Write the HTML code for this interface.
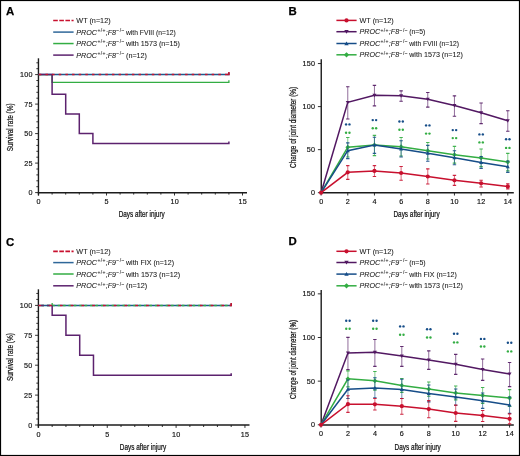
<!DOCTYPE html><html><head><meta charset="utf-8"><style>html,body{margin:0;padding:0;background:#fff}svg{display:block;will-change:transform}text{font-family:"Liberation Sans",sans-serif}.t{fill:#111;stroke:#111;stroke-width:0.16px}.l{fill:#1a1a1a;stroke:#1a1a1a;stroke-width:0.07px}.tt{fill:#111;stroke:#111;stroke-width:0.22px}</style></head><body>
<svg width="520" height="456" viewBox="0 0 520 456">
<rect x="0" y="0" width="520" height="456" fill="#fff"/>
<text x="5.9" y="14.5" font-size="11.4" text-anchor="start" font-weight="bold" fill="#000" stroke="#000" stroke-width="0.25">A</text>
<text x="5.9" y="245.7" font-size="11.4" text-anchor="start" font-weight="bold" fill="#000" stroke="#000" stroke-width="0.25">C</text>
<text x="288.5" y="14.9" font-size="11.4" text-anchor="start" font-weight="bold" fill="#000" stroke="#000" stroke-width="0.25">B</text>
<text x="288.5" y="245.4" font-size="11.4" text-anchor="start" font-weight="bold" fill="#000" stroke="#000" stroke-width="0.25">D</text>
<line x1="53.2" y1="20.55" x2="73.6" y2="20.55" stroke="#c8102e" stroke-width="1.6" stroke-dasharray="4.6 1.5"/>
<text class="l" x="76.3" y="23.15" font-size="7.2" textLength="34.3" lengthAdjust="spacingAndGlyphs">WT (n=12)</text>
<line x1="53.2" y1="32.1" x2="73.6" y2="32.1" stroke="#2f6799" stroke-width="1.5"/>
<text class="l" x="76.3" y="34.7" font-size="7.2"><tspan font-style="italic">PROC</tspan><tspan font-size="5" dy="-2.8" letter-spacing="0.35" dx="0.3">+/+</tspan><tspan dy="2.8" font-style="italic">;F8</tspan><tspan font-size="5" dy="-2.8" letter-spacing="0.45" dx="0.3">&#8722;/&#8722;</tspan></text>
<text class="l" x="126" y="34.7" font-size="7.2" textLength="49.7" lengthAdjust="spacingAndGlyphs">with FVIII (n=12)</text>
<line x1="53.2" y1="43.55" x2="73.6" y2="43.55" stroke="#33ad43" stroke-width="1.5"/>
<text class="l" x="76.3" y="46.15" font-size="7.2"><tspan font-style="italic">PROC</tspan><tspan font-size="5" dy="-2.8" letter-spacing="0.35" dx="0.3">+/+</tspan><tspan dy="2.8" font-style="italic">;F8</tspan><tspan font-size="5" dy="-2.8" letter-spacing="0.45" dx="0.3">&#8722;/&#8722;</tspan></text>
<text class="l" x="126" y="46.15" font-size="7.2" textLength="54" lengthAdjust="spacingAndGlyphs">with 1573 (n=15)</text>
<line x1="53.2" y1="55.1" x2="73.6" y2="55.1" stroke="#5c226e" stroke-width="1.5"/>
<text class="l" x="76.3" y="57.7" font-size="7.2"><tspan font-style="italic">PROC</tspan><tspan font-size="5" dy="-2.8" letter-spacing="0.35" dx="0.3">+/+</tspan><tspan dy="2.8" font-style="italic">;F8</tspan><tspan font-size="5" dy="-2.8" letter-spacing="0.45" dx="0.3">&#8722;/&#8722;</tspan></text>
<text class="l" x="126" y="57.7" font-size="7.2" textLength="21" lengthAdjust="spacingAndGlyphs">(n=12)</text>
<line x1="53.2" y1="251.4" x2="73.6" y2="251.4" stroke="#c8102e" stroke-width="1.6" stroke-dasharray="4.6 1.5"/>
<text class="l" x="76.3" y="254" font-size="7.2" textLength="34.3" lengthAdjust="spacingAndGlyphs">WT (n=12)</text>
<line x1="53.2" y1="262.6" x2="73.6" y2="262.6" stroke="#2f6799" stroke-width="1.5"/>
<text class="l" x="76.3" y="265.2" font-size="7.2"><tspan font-style="italic">PROC</tspan><tspan font-size="5" dy="-2.8" letter-spacing="0.35" dx="0.3">+/+</tspan><tspan dy="2.8" font-style="italic">;F9</tspan><tspan font-size="5" dy="-2.8" letter-spacing="0.45" dx="0.3">&#8722;/&#8722;</tspan></text>
<text class="l" x="126" y="265.2" font-size="7.2" textLength="48" lengthAdjust="spacingAndGlyphs">with FIX (n=12)</text>
<line x1="53.2" y1="274" x2="73.6" y2="274" stroke="#33ad43" stroke-width="1.5"/>
<text class="l" x="76.3" y="276.6" font-size="7.2"><tspan font-style="italic">PROC</tspan><tspan font-size="5" dy="-2.8" letter-spacing="0.35" dx="0.3">+/+</tspan><tspan dy="2.8" font-style="italic">;F9</tspan><tspan font-size="5" dy="-2.8" letter-spacing="0.45" dx="0.3">&#8722;/&#8722;</tspan></text>
<text class="l" x="126" y="276.6" font-size="7.2" textLength="54.2" lengthAdjust="spacingAndGlyphs">with 1573 (n=12)</text>
<line x1="53.2" y1="285.8" x2="73.6" y2="285.8" stroke="#5c226e" stroke-width="1.5"/>
<text class="l" x="76.3" y="288.4" font-size="7.2"><tspan font-style="italic">PROC</tspan><tspan font-size="5" dy="-2.8" letter-spacing="0.35" dx="0.3">+/+</tspan><tspan dy="2.8" font-style="italic">;F9</tspan><tspan font-size="5" dy="-2.8" letter-spacing="0.45" dx="0.3">&#8722;/&#8722;</tspan></text>
<text class="l" x="126" y="288.4" font-size="7.2" textLength="21.2" lengthAdjust="spacingAndGlyphs">(n=12)</text>
<line x1="336.4" y1="20.4" x2="356.6" y2="20.4" stroke="#c8102e" stroke-width="1.5"/>
<circle cx="346.5" cy="20.4" r="2.1" fill="#c8102e"/>
<text class="l" x="359.5" y="23" font-size="7.2" textLength="34.3" lengthAdjust="spacingAndGlyphs">WT (n=12)</text>
<line x1="336.4" y1="31.7" x2="356.6" y2="31.7" stroke="#521862" stroke-width="1.5"/>
<path d="M344.3,30.05H348.7L346.5,33.79Z" fill="#521862"/>
<text class="l" x="359.5" y="34.3" font-size="7.2"><tspan font-style="italic">PROC</tspan><tspan font-size="5" dy="-2.8" letter-spacing="0.35" dx="0.3">+/+</tspan><tspan dy="2.8" font-style="italic">;F8</tspan><tspan font-size="5" dy="-2.8" letter-spacing="0.45" dx="0.3">&#8722;/&#8722;</tspan></text>
<text class="l" x="409.2" y="34.3" font-size="7.2" textLength="16.2" lengthAdjust="spacingAndGlyphs">(n=5)</text>
<line x1="336.4" y1="43.5" x2="356.6" y2="43.5" stroke="#164d88" stroke-width="1.5"/>
<path d="M344.3,45.15H348.7L346.5,41.41Z" fill="#164d88"/>
<text class="l" x="359.5" y="46.1" font-size="7.2"><tspan font-style="italic">PROC</tspan><tspan font-size="5" dy="-2.8" letter-spacing="0.35" dx="0.3">+/+</tspan><tspan dy="2.8" font-style="italic">;F8</tspan><tspan font-size="5" dy="-2.8" letter-spacing="0.45" dx="0.3">&#8722;/&#8722;</tspan></text>
<text class="l" x="409.2" y="46.1" font-size="7.2" textLength="49.8" lengthAdjust="spacingAndGlyphs">with FVIII (n=12)</text>
<line x1="336.4" y1="54.8" x2="356.6" y2="54.8" stroke="#33ad43" stroke-width="1.5"/>
<path d="M346.5,52.16L349.14,54.8L346.5,57.44L343.86,54.8Z" fill="#33ad43"/>
<text class="l" x="359.5" y="57.4" font-size="7.2"><tspan font-style="italic">PROC</tspan><tspan font-size="5" dy="-2.8" letter-spacing="0.35" dx="0.3">+/+</tspan><tspan dy="2.8" font-style="italic">;F8</tspan><tspan font-size="5" dy="-2.8" letter-spacing="0.45" dx="0.3">&#8722;/&#8722;</tspan></text>
<text class="l" x="409.2" y="57.4" font-size="7.2" textLength="53.6" lengthAdjust="spacingAndGlyphs">with 1573 (n=12)</text>
<line x1="336.4" y1="251.3" x2="356.6" y2="251.3" stroke="#c8102e" stroke-width="1.5"/>
<circle cx="346.5" cy="251.3" r="2.1" fill="#c8102e"/>
<text class="l" x="359.5" y="253.9" font-size="7.2" textLength="34.3" lengthAdjust="spacingAndGlyphs">WT (n=12)</text>
<line x1="336.4" y1="262.5" x2="356.6" y2="262.5" stroke="#521862" stroke-width="1.5"/>
<path d="M344.3,260.85H348.7L346.5,264.59Z" fill="#521862"/>
<text class="l" x="359.5" y="265.1" font-size="7.2"><tspan font-style="italic">PROC</tspan><tspan font-size="5" dy="-2.8" letter-spacing="0.35" dx="0.3">+/+</tspan><tspan dy="2.8" font-style="italic">;F9</tspan><tspan font-size="5" dy="-2.8" letter-spacing="0.45" dx="0.3">&#8722;/&#8722;</tspan></text>
<text class="l" x="409.2" y="265.1" font-size="7.2" textLength="16.4" lengthAdjust="spacingAndGlyphs">(n=5)</text>
<line x1="336.4" y1="274.1" x2="356.6" y2="274.1" stroke="#164d88" stroke-width="1.5"/>
<path d="M344.3,275.75H348.7L346.5,272.01Z" fill="#164d88"/>
<text class="l" x="359.5" y="276.7" font-size="7.2"><tspan font-style="italic">PROC</tspan><tspan font-size="5" dy="-2.8" letter-spacing="0.35" dx="0.3">+/+</tspan><tspan dy="2.8" font-style="italic">;F9</tspan><tspan font-size="5" dy="-2.8" letter-spacing="0.45" dx="0.3">&#8722;/&#8722;</tspan></text>
<text class="l" x="409.2" y="276.7" font-size="7.2" textLength="47.6" lengthAdjust="spacingAndGlyphs">with FIX (n=12)</text>
<line x1="336.4" y1="285.8" x2="356.6" y2="285.8" stroke="#33ad43" stroke-width="1.5"/>
<path d="M346.5,283.16L349.14,285.8L346.5,288.44L343.86,285.8Z" fill="#33ad43"/>
<text class="l" x="359.5" y="288.4" font-size="7.2"><tspan font-style="italic">PROC</tspan><tspan font-size="5" dy="-2.8" letter-spacing="0.35" dx="0.3">+/+</tspan><tspan dy="2.8" font-style="italic">;F9</tspan><tspan font-size="5" dy="-2.8" letter-spacing="0.45" dx="0.3">&#8722;/&#8722;</tspan></text>
<text class="l" x="409.2" y="288.4" font-size="7.2" textLength="53.8" lengthAdjust="spacingAndGlyphs">with 1573 (n=12)</text>
<line x1="38.45" y1="58.3" x2="38.45" y2="195.45" stroke="#1c1c1c" stroke-width="1.4"/>
<line x1="37.75" y1="192.65" x2="247" y2="192.65" stroke="#1c1c1c" stroke-width="1.5"/>
<line x1="35.15" y1="192.6" x2="38.45" y2="192.6" stroke="#1c1c1c" stroke-width="0.9"/>
<line x1="36.35" y1="186.7" x2="38.45" y2="186.7" stroke="#1c1c1c" stroke-width="0.9"/>
<line x1="36.35" y1="180.8" x2="38.45" y2="180.8" stroke="#1c1c1c" stroke-width="0.9"/>
<line x1="36.35" y1="174.9" x2="38.45" y2="174.9" stroke="#1c1c1c" stroke-width="0.9"/>
<line x1="36.35" y1="169" x2="38.45" y2="169" stroke="#1c1c1c" stroke-width="0.9"/>
<line x1="35.15" y1="163.1" x2="38.45" y2="163.1" stroke="#1c1c1c" stroke-width="0.9"/>
<line x1="36.35" y1="157.2" x2="38.45" y2="157.2" stroke="#1c1c1c" stroke-width="0.9"/>
<line x1="36.35" y1="151.3" x2="38.45" y2="151.3" stroke="#1c1c1c" stroke-width="0.9"/>
<line x1="36.35" y1="145.4" x2="38.45" y2="145.4" stroke="#1c1c1c" stroke-width="0.9"/>
<line x1="36.35" y1="139.5" x2="38.45" y2="139.5" stroke="#1c1c1c" stroke-width="0.9"/>
<line x1="35.15" y1="133.6" x2="38.45" y2="133.6" stroke="#1c1c1c" stroke-width="0.9"/>
<line x1="36.35" y1="127.7" x2="38.45" y2="127.7" stroke="#1c1c1c" stroke-width="0.9"/>
<line x1="36.35" y1="121.8" x2="38.45" y2="121.8" stroke="#1c1c1c" stroke-width="0.9"/>
<line x1="36.35" y1="115.9" x2="38.45" y2="115.9" stroke="#1c1c1c" stroke-width="0.9"/>
<line x1="36.35" y1="110" x2="38.45" y2="110" stroke="#1c1c1c" stroke-width="0.9"/>
<line x1="35.15" y1="104.1" x2="38.45" y2="104.1" stroke="#1c1c1c" stroke-width="0.9"/>
<line x1="36.35" y1="98.2" x2="38.45" y2="98.2" stroke="#1c1c1c" stroke-width="0.9"/>
<line x1="36.35" y1="92.3" x2="38.45" y2="92.3" stroke="#1c1c1c" stroke-width="0.9"/>
<line x1="36.35" y1="86.4" x2="38.45" y2="86.4" stroke="#1c1c1c" stroke-width="0.9"/>
<line x1="36.35" y1="80.5" x2="38.45" y2="80.5" stroke="#1c1c1c" stroke-width="0.9"/>
<line x1="35.15" y1="74.6" x2="38.45" y2="74.6" stroke="#1c1c1c" stroke-width="0.9"/>
<line x1="36.35" y1="68.7" x2="38.45" y2="68.7" stroke="#1c1c1c" stroke-width="0.9"/>
<line x1="36.35" y1="62.8" x2="38.45" y2="62.8" stroke="#1c1c1c" stroke-width="0.9"/>
<text x="32.65" y="195.15" font-size="7.2" text-anchor="end" class="t" letter-spacing="0.25">0</text>
<text x="32.65" y="165.65" font-size="7.2" text-anchor="end" class="t" letter-spacing="0.25">25</text>
<text x="32.65" y="136.15" font-size="7.2" text-anchor="end" class="t" letter-spacing="0.25">50</text>
<text x="32.65" y="106.65" font-size="7.2" text-anchor="end" class="t" letter-spacing="0.25">75</text>
<text x="32.65" y="77.15" font-size="7.2" text-anchor="end" class="t" letter-spacing="0.25">100</text>
<line x1="38.5" y1="192.6" x2="38.5" y2="195.5" stroke="#1c1c1c" stroke-width="0.9"/>
<line x1="52.1" y1="192.6" x2="52.1" y2="194.6" stroke="#1c1c1c" stroke-width="0.9"/>
<line x1="65.7" y1="192.6" x2="65.7" y2="194.6" stroke="#1c1c1c" stroke-width="0.9"/>
<line x1="79.3" y1="192.6" x2="79.3" y2="194.6" stroke="#1c1c1c" stroke-width="0.9"/>
<line x1="92.9" y1="192.6" x2="92.9" y2="194.6" stroke="#1c1c1c" stroke-width="0.9"/>
<line x1="106.5" y1="192.6" x2="106.5" y2="195.5" stroke="#1c1c1c" stroke-width="0.9"/>
<line x1="120.1" y1="192.6" x2="120.1" y2="194.6" stroke="#1c1c1c" stroke-width="0.9"/>
<line x1="133.7" y1="192.6" x2="133.7" y2="194.6" stroke="#1c1c1c" stroke-width="0.9"/>
<line x1="147.3" y1="192.6" x2="147.3" y2="194.6" stroke="#1c1c1c" stroke-width="0.9"/>
<line x1="160.9" y1="192.6" x2="160.9" y2="194.6" stroke="#1c1c1c" stroke-width="0.9"/>
<line x1="174.5" y1="192.6" x2="174.5" y2="195.5" stroke="#1c1c1c" stroke-width="0.9"/>
<line x1="188.1" y1="192.6" x2="188.1" y2="194.6" stroke="#1c1c1c" stroke-width="0.9"/>
<line x1="201.7" y1="192.6" x2="201.7" y2="194.6" stroke="#1c1c1c" stroke-width="0.9"/>
<line x1="215.3" y1="192.6" x2="215.3" y2="194.6" stroke="#1c1c1c" stroke-width="0.9"/>
<line x1="228.9" y1="192.6" x2="228.9" y2="194.6" stroke="#1c1c1c" stroke-width="0.9"/>
<line x1="242.5" y1="192.6" x2="242.5" y2="195.5" stroke="#1c1c1c" stroke-width="0.9"/>
<text x="38.65" y="204.1" font-size="7.2" text-anchor="middle" class="t" letter-spacing="0.25">0</text>
<text x="106.65" y="204.1" font-size="7.2" text-anchor="middle" class="t" letter-spacing="0.25">5</text>
<text x="174.65" y="204.1" font-size="7.2" text-anchor="middle" class="t" letter-spacing="0.25">10</text>
<text x="242.65" y="204.1" font-size="7.2" text-anchor="middle" class="t" letter-spacing="0.25">15</text>
<polyline points="38.5,74.6 228.9,74.6 228.9,72.4" fill="none" stroke="#1f5b8f" stroke-width="1.5" stroke-linejoin="miter"/>
<polyline points="38.5,74.6 52.1,74.6 52.1,82.47 228.9,82.47 228.9,80.27" fill="none" stroke="#33ad43" stroke-width="1.3" stroke-linejoin="miter"/>
<polyline points="38.5,74.6 52.1,74.6 52.1,94.27 65.7,94.27 65.7,113.93 79.3,113.93 79.3,133.6 92.9,133.6 92.9,143.43 228.9,143.43 228.9,141.43" fill="none" stroke="#5c226e" stroke-width="1.5" stroke-linejoin="miter"/>
<polyline points="38.5,74.6 227.7,74.6" fill="none" stroke="#c8102e" stroke-width="1.5" stroke-linejoin="miter" stroke-dasharray="2.5 4.15" stroke-dashoffset="6.35"/>
<polyline points="227.3,74.6 228.9,74.6 228.9,72.1" fill="none" stroke="#c8102e" stroke-width="1.5" stroke-linejoin="miter"/>
<line x1="38.4" y1="289.3" x2="38.4" y2="427.8" stroke="#1c1c1c" stroke-width="1.4"/>
<line x1="37.7" y1="425" x2="249.5" y2="425" stroke="#1c1c1c" stroke-width="1.5"/>
<line x1="35.1" y1="425" x2="38.4" y2="425" stroke="#1c1c1c" stroke-width="0.9"/>
<line x1="36.3" y1="419.02" x2="38.4" y2="419.02" stroke="#1c1c1c" stroke-width="0.9"/>
<line x1="36.3" y1="413.04" x2="38.4" y2="413.04" stroke="#1c1c1c" stroke-width="0.9"/>
<line x1="36.3" y1="407.06" x2="38.4" y2="407.06" stroke="#1c1c1c" stroke-width="0.9"/>
<line x1="36.3" y1="401.08" x2="38.4" y2="401.08" stroke="#1c1c1c" stroke-width="0.9"/>
<line x1="35.1" y1="395.1" x2="38.4" y2="395.1" stroke="#1c1c1c" stroke-width="0.9"/>
<line x1="36.3" y1="389.12" x2="38.4" y2="389.12" stroke="#1c1c1c" stroke-width="0.9"/>
<line x1="36.3" y1="383.14" x2="38.4" y2="383.14" stroke="#1c1c1c" stroke-width="0.9"/>
<line x1="36.3" y1="377.16" x2="38.4" y2="377.16" stroke="#1c1c1c" stroke-width="0.9"/>
<line x1="36.3" y1="371.18" x2="38.4" y2="371.18" stroke="#1c1c1c" stroke-width="0.9"/>
<line x1="35.1" y1="365.2" x2="38.4" y2="365.2" stroke="#1c1c1c" stroke-width="0.9"/>
<line x1="36.3" y1="359.22" x2="38.4" y2="359.22" stroke="#1c1c1c" stroke-width="0.9"/>
<line x1="36.3" y1="353.24" x2="38.4" y2="353.24" stroke="#1c1c1c" stroke-width="0.9"/>
<line x1="36.3" y1="347.26" x2="38.4" y2="347.26" stroke="#1c1c1c" stroke-width="0.9"/>
<line x1="36.3" y1="341.28" x2="38.4" y2="341.28" stroke="#1c1c1c" stroke-width="0.9"/>
<line x1="35.1" y1="335.3" x2="38.4" y2="335.3" stroke="#1c1c1c" stroke-width="0.9"/>
<line x1="36.3" y1="329.32" x2="38.4" y2="329.32" stroke="#1c1c1c" stroke-width="0.9"/>
<line x1="36.3" y1="323.34" x2="38.4" y2="323.34" stroke="#1c1c1c" stroke-width="0.9"/>
<line x1="36.3" y1="317.36" x2="38.4" y2="317.36" stroke="#1c1c1c" stroke-width="0.9"/>
<line x1="36.3" y1="311.38" x2="38.4" y2="311.38" stroke="#1c1c1c" stroke-width="0.9"/>
<line x1="35.1" y1="305.4" x2="38.4" y2="305.4" stroke="#1c1c1c" stroke-width="0.9"/>
<line x1="36.3" y1="299.42" x2="38.4" y2="299.42" stroke="#1c1c1c" stroke-width="0.9"/>
<line x1="36.3" y1="293.44" x2="38.4" y2="293.44" stroke="#1c1c1c" stroke-width="0.9"/>
<text x="32.6" y="427.55" font-size="7.2" text-anchor="end" class="t" letter-spacing="0.25">0</text>
<text x="32.6" y="397.65" font-size="7.2" text-anchor="end" class="t" letter-spacing="0.25">25</text>
<text x="32.6" y="367.75" font-size="7.2" text-anchor="end" class="t" letter-spacing="0.25">50</text>
<text x="32.6" y="337.85" font-size="7.2" text-anchor="end" class="t" letter-spacing="0.25">75</text>
<text x="32.6" y="307.95" font-size="7.2" text-anchor="end" class="t" letter-spacing="0.25">100</text>
<line x1="38.4" y1="425" x2="38.4" y2="427.9" stroke="#1c1c1c" stroke-width="0.9"/>
<line x1="52.17" y1="425" x2="52.17" y2="427" stroke="#1c1c1c" stroke-width="0.9"/>
<line x1="65.94" y1="425" x2="65.94" y2="427" stroke="#1c1c1c" stroke-width="0.9"/>
<line x1="79.71" y1="425" x2="79.71" y2="427" stroke="#1c1c1c" stroke-width="0.9"/>
<line x1="93.48" y1="425" x2="93.48" y2="427" stroke="#1c1c1c" stroke-width="0.9"/>
<line x1="107.25" y1="425" x2="107.25" y2="427.9" stroke="#1c1c1c" stroke-width="0.9"/>
<line x1="121.02" y1="425" x2="121.02" y2="427" stroke="#1c1c1c" stroke-width="0.9"/>
<line x1="134.79" y1="425" x2="134.79" y2="427" stroke="#1c1c1c" stroke-width="0.9"/>
<line x1="148.56" y1="425" x2="148.56" y2="427" stroke="#1c1c1c" stroke-width="0.9"/>
<line x1="162.33" y1="425" x2="162.33" y2="427" stroke="#1c1c1c" stroke-width="0.9"/>
<line x1="176.1" y1="425" x2="176.1" y2="427.9" stroke="#1c1c1c" stroke-width="0.9"/>
<line x1="189.87" y1="425" x2="189.87" y2="427" stroke="#1c1c1c" stroke-width="0.9"/>
<line x1="203.64" y1="425" x2="203.64" y2="427" stroke="#1c1c1c" stroke-width="0.9"/>
<line x1="217.41" y1="425" x2="217.41" y2="427" stroke="#1c1c1c" stroke-width="0.9"/>
<line x1="231.18" y1="425" x2="231.18" y2="427" stroke="#1c1c1c" stroke-width="0.9"/>
<line x1="244.95" y1="425" x2="244.95" y2="427.9" stroke="#1c1c1c" stroke-width="0.9"/>
<text x="38.55" y="436.5" font-size="7.2" text-anchor="middle" class="t" letter-spacing="0.25">0</text>
<text x="107.4" y="436.5" font-size="7.2" text-anchor="middle" class="t" letter-spacing="0.25">5</text>
<text x="176.25" y="436.5" font-size="7.2" text-anchor="middle" class="t" letter-spacing="0.25">10</text>
<text x="245.1" y="436.5" font-size="7.2" text-anchor="middle" class="t" letter-spacing="0.25">15</text>
<polyline points="38.4,305.4 231.18,305.4 231.18,303.2" fill="none" stroke="#1f5b8f" stroke-width="1.5" stroke-linejoin="miter"/>
<line x1="52.17" y1="305.4" x2="52.17" y2="303.1" stroke="#33ad43" stroke-width="1.3"/>
<polyline points="38.4,305.4 231.18,305.4" fill="none" stroke="#33ad43" stroke-width="1.5" stroke-linejoin="miter" stroke-dasharray="2.5 2.9" stroke-dashoffset="2.3"/>
<polyline points="52.17,305.4 52.17,315.36 65.94,315.36 65.94,335.3 79.71,335.3 79.71,355.24 93.48,355.24 93.48,375.16 231.18,375.16 231.18,373.16" fill="none" stroke="#5c226e" stroke-width="1.5" stroke-linejoin="miter"/>
<polyline points="38.4,305.4 52.17,305.4" fill="none" stroke="#5c226e" stroke-width="1.5" stroke-linejoin="miter" stroke-dasharray="3 3" stroke-dashoffset="-2.5"/>
<polyline points="38.4,305.4 229.98,305.4" fill="none" stroke="#c8102e" stroke-width="1.5" stroke-linejoin="miter" stroke-dasharray="2.7 8.07"/>
<polyline points="229.58,305.4 231.18,305.4 231.18,302.9" fill="none" stroke="#c8102e" stroke-width="1.5" stroke-linejoin="miter"/>
<line x1="321.25" y1="59.2" x2="321.25" y2="193.4" stroke="#1c1c1c" stroke-width="1.4"/>
<line x1="320.55" y1="192.65" x2="513.8" y2="192.65" stroke="#1c1c1c" stroke-width="1.5"/>
<line x1="317.9" y1="192.7" x2="321.1" y2="192.7" stroke="#1c1c1c" stroke-width="0.9"/>
<text x="315.3" y="195.25" font-size="7.2" text-anchor="end" class="t" letter-spacing="0.25">0</text>
<line x1="317.9" y1="149.65" x2="321.1" y2="149.65" stroke="#1c1c1c" stroke-width="0.9"/>
<text x="315.3" y="152.2" font-size="7.2" text-anchor="end" class="t" letter-spacing="0.25">50</text>
<line x1="317.9" y1="106.6" x2="321.1" y2="106.6" stroke="#1c1c1c" stroke-width="0.9"/>
<text x="315.3" y="109.15" font-size="7.2" text-anchor="end" class="t" letter-spacing="0.25">100</text>
<line x1="317.9" y1="63.55" x2="321.1" y2="63.55" stroke="#1c1c1c" stroke-width="0.9"/>
<text x="315.3" y="66.1" font-size="7.2" text-anchor="end" class="t" letter-spacing="0.25">150</text>
<line x1="321.1" y1="192.7" x2="321.1" y2="195.5" stroke="#1c1c1c" stroke-width="0.9"/>
<text x="321.25" y="204.3" font-size="7.2" text-anchor="middle" class="t" letter-spacing="0.25">0</text>
<line x1="347.77" y1="192.7" x2="347.77" y2="195.5" stroke="#1c1c1c" stroke-width="0.9"/>
<text x="347.92" y="204.3" font-size="7.2" text-anchor="middle" class="t" letter-spacing="0.25">2</text>
<line x1="374.44" y1="192.7" x2="374.44" y2="195.5" stroke="#1c1c1c" stroke-width="0.9"/>
<text x="374.59" y="204.3" font-size="7.2" text-anchor="middle" class="t" letter-spacing="0.25">4</text>
<line x1="401.11" y1="192.7" x2="401.11" y2="195.5" stroke="#1c1c1c" stroke-width="0.9"/>
<text x="401.26" y="204.3" font-size="7.2" text-anchor="middle" class="t" letter-spacing="0.25">6</text>
<line x1="427.78" y1="192.7" x2="427.78" y2="195.5" stroke="#1c1c1c" stroke-width="0.9"/>
<text x="427.93" y="204.3" font-size="7.2" text-anchor="middle" class="t" letter-spacing="0.25">8</text>
<line x1="454.45" y1="192.7" x2="454.45" y2="195.5" stroke="#1c1c1c" stroke-width="0.9"/>
<text x="454.6" y="204.3" font-size="7.2" text-anchor="middle" class="t" letter-spacing="0.25">10</text>
<line x1="481.12" y1="192.7" x2="481.12" y2="195.5" stroke="#1c1c1c" stroke-width="0.9"/>
<text x="481.27" y="204.3" font-size="7.2" text-anchor="middle" class="t" letter-spacing="0.25">12</text>
<line x1="507.79" y1="192.7" x2="507.79" y2="195.5" stroke="#1c1c1c" stroke-width="0.9"/>
<text x="507.94" y="204.3" font-size="7.2" text-anchor="middle" class="t" letter-spacing="0.25">14</text>
<path d="M347.77,86.7V119" stroke="#521862" stroke-width="0.9" fill="none" opacity="0.7"/>
<path d="M346.07,86.7H349.47M346.07,119H349.47" stroke="#521862" stroke-width="1.15" fill="none" opacity="0.9"/>
<path d="M374.44,85.3V105.8" stroke="#521862" stroke-width="0.9" fill="none" opacity="0.7"/>
<path d="M372.74,85.3H376.14M372.74,105.8H376.14" stroke="#521862" stroke-width="1.15" fill="none" opacity="0.9"/>
<path d="M401.11,90.8V101.2" stroke="#521862" stroke-width="0.9" fill="none" opacity="0.7"/>
<path d="M399.41,90.8H402.81M399.41,101.2H402.81" stroke="#521862" stroke-width="1.15" fill="none" opacity="0.9"/>
<path d="M427.78,92.5V107.1" stroke="#521862" stroke-width="0.9" fill="none" opacity="0.7"/>
<path d="M426.08,92.5H429.48M426.08,107.1H429.48" stroke="#521862" stroke-width="1.15" fill="none" opacity="0.9"/>
<path d="M454.45,95.8V116.2" stroke="#521862" stroke-width="0.9" fill="none" opacity="0.7"/>
<path d="M452.75,95.8H456.15M452.75,116.2H456.15" stroke="#521862" stroke-width="1.15" fill="none" opacity="0.9"/>
<path d="M481.12,103V123.6" stroke="#521862" stroke-width="0.9" fill="none" opacity="0.7"/>
<path d="M479.42,103H482.82M479.42,123.6H482.82" stroke="#521862" stroke-width="1.15" fill="none" opacity="0.9"/>
<path d="M507.79,110.7V131.2" stroke="#521862" stroke-width="0.9" fill="none" opacity="0.7"/>
<path d="M506.09,110.7H509.49M506.09,131.2H509.49" stroke="#521862" stroke-width="1.15" fill="none" opacity="0.9"/>
<polyline points="321.1,192.7 347.77,102.4 374.44,95.3 401.11,95.8 427.78,99.2 454.45,105.5 481.12,112.8 507.79,120.8" fill="none" stroke="#521862" stroke-width="1.5" stroke-linejoin="miter"/>
<path d="M345.77,100.9H349.77L347.77,104.3Z" fill="#521862"/>
<path d="M372.44,93.8H376.44L374.44,97.2Z" fill="#521862"/>
<path d="M399.11,94.3H403.11L401.11,97.7Z" fill="#521862"/>
<path d="M425.78,97.7H429.78L427.78,101.1Z" fill="#521862"/>
<path d="M452.45,104H456.45L454.45,107.4Z" fill="#521862"/>
<path d="M479.12,111.3H483.12L481.12,114.7Z" fill="#521862"/>
<path d="M505.79,119.3H509.79L507.79,122.7Z" fill="#521862"/>
<path d="M347.77,137.5V157" stroke="#33ad43" stroke-width="0.9" fill="none" opacity="0.7"/>
<path d="M346.07,137.5H349.47M346.07,157H349.47" stroke="#33ad43" stroke-width="1.15" fill="none" opacity="0.9"/>
<path d="M374.44,135.4V155.6" stroke="#33ad43" stroke-width="0.9" fill="none" opacity="0.7"/>
<path d="M372.74,135.4H376.14M372.74,155.6H376.14" stroke="#33ad43" stroke-width="1.15" fill="none" opacity="0.9"/>
<path d="M401.11,137.5V156" stroke="#33ad43" stroke-width="0.9" fill="none" opacity="0.7"/>
<path d="M399.41,137.5H402.81M399.41,156H402.81" stroke="#33ad43" stroke-width="1.15" fill="none" opacity="0.9"/>
<path d="M427.78,142.5V159" stroke="#33ad43" stroke-width="0.9" fill="none" opacity="0.7"/>
<path d="M426.08,142.5H429.48M426.08,159H429.48" stroke="#33ad43" stroke-width="1.15" fill="none" opacity="0.9"/>
<path d="M454.45,146.3V163.1" stroke="#33ad43" stroke-width="0.9" fill="none" opacity="0.7"/>
<path d="M452.75,146.3H456.15M452.75,163.1H456.15" stroke="#33ad43" stroke-width="1.15" fill="none" opacity="0.9"/>
<path d="M481.12,149V166.6" stroke="#33ad43" stroke-width="0.9" fill="none" opacity="0.7"/>
<path d="M479.42,149H482.82M479.42,166.6H482.82" stroke="#33ad43" stroke-width="1.15" fill="none" opacity="0.9"/>
<path d="M507.79,153.3V170.8" stroke="#33ad43" stroke-width="0.9" fill="none" opacity="0.7"/>
<path d="M506.09,153.3H509.49M506.09,170.8H509.49" stroke="#33ad43" stroke-width="1.15" fill="none" opacity="0.9"/>
<polyline points="321.1,192.7 347.77,147.2 374.44,145 401.11,146.7 427.78,150.7 454.45,154.7 481.12,157.9 507.79,162.1" fill="none" stroke="#33ad43" stroke-width="1.5" stroke-linejoin="miter"/>
<path d="M347.77,144.8L350.17,147.2L347.77,149.6L345.37,147.2Z" fill="#33ad43"/>
<path d="M374.44,142.6L376.84,145L374.44,147.4L372.04,145Z" fill="#33ad43"/>
<path d="M401.11,144.3L403.51,146.7L401.11,149.1L398.71,146.7Z" fill="#33ad43"/>
<path d="M427.78,148.3L430.18,150.7L427.78,153.1L425.38,150.7Z" fill="#33ad43"/>
<path d="M454.45,152.3L456.85,154.7L454.45,157.1L452.05,154.7Z" fill="#33ad43"/>
<path d="M481.12,155.5L483.52,157.9L481.12,160.3L478.72,157.9Z" fill="#33ad43"/>
<path d="M507.79,159.7L510.19,162.1L507.79,164.5L505.39,162.1Z" fill="#33ad43"/>
<path d="M347.77,142.8V158.6" stroke="#164d88" stroke-width="0.9" fill="none" opacity="0.7"/>
<path d="M346.07,142.8H349.47M346.07,158.6H349.47" stroke="#164d88" stroke-width="1.15" fill="none" opacity="0.9"/>
<path d="M374.44,137.2V153.3" stroke="#164d88" stroke-width="0.9" fill="none" opacity="0.7"/>
<path d="M372.74,137.2H376.14M372.74,153.3H376.14" stroke="#164d88" stroke-width="1.15" fill="none" opacity="0.9"/>
<path d="M401.11,140.7V157" stroke="#164d88" stroke-width="0.9" fill="none" opacity="0.7"/>
<path d="M399.41,140.7H402.81M399.41,157H402.81" stroke="#164d88" stroke-width="1.15" fill="none" opacity="0.9"/>
<path d="M427.78,145.4V161.2" stroke="#164d88" stroke-width="0.9" fill="none" opacity="0.7"/>
<path d="M426.08,145.4H429.48M426.08,161.2H429.48" stroke="#164d88" stroke-width="1.15" fill="none" opacity="0.9"/>
<path d="M454.45,150.7V164.7" stroke="#164d88" stroke-width="0.9" fill="none" opacity="0.7"/>
<path d="M452.75,150.7H456.15M452.75,164.7H456.15" stroke="#164d88" stroke-width="1.15" fill="none" opacity="0.9"/>
<path d="M481.12,156.5V168.3" stroke="#164d88" stroke-width="0.9" fill="none" opacity="0.7"/>
<path d="M479.42,156.5H482.82M479.42,168.3H482.82" stroke="#164d88" stroke-width="1.15" fill="none" opacity="0.9"/>
<path d="M507.79,161V172.3" stroke="#164d88" stroke-width="0.9" fill="none" opacity="0.7"/>
<path d="M506.09,161H509.49M506.09,172.3H509.49" stroke="#164d88" stroke-width="1.15" fill="none" opacity="0.9"/>
<polyline points="321.1,192.7 347.77,150.7 374.44,145.1 401.11,148.9 427.78,153.3 454.45,157.7 481.12,162.5 507.79,166.7" fill="none" stroke="#164d88" stroke-width="1.5" stroke-linejoin="miter"/>
<path d="M345.77,152.2H349.77L347.77,148.8Z" fill="#164d88"/>
<path d="M372.44,146.6H376.44L374.44,143.2Z" fill="#164d88"/>
<path d="M399.11,150.4H403.11L401.11,147Z" fill="#164d88"/>
<path d="M425.78,154.8H429.78L427.78,151.4Z" fill="#164d88"/>
<path d="M452.45,159.2H456.45L454.45,155.8Z" fill="#164d88"/>
<path d="M479.12,164H483.12L481.12,160.6Z" fill="#164d88"/>
<path d="M505.79,168.2H509.79L507.79,164.8Z" fill="#164d88"/>
<path d="M347.77,165.6V179.3" stroke="#c8102e" stroke-width="0.9" fill="none" opacity="0.7"/>
<path d="M346.07,165.6H349.47M346.07,179.3H349.47" stroke="#c8102e" stroke-width="1.15" fill="none" opacity="0.9"/>
<path d="M374.44,165.6V176.5" stroke="#c8102e" stroke-width="0.9" fill="none" opacity="0.7"/>
<path d="M372.74,165.6H376.14M372.74,176.5H376.14" stroke="#c8102e" stroke-width="1.15" fill="none" opacity="0.9"/>
<path d="M401.11,166.5V180.2" stroke="#c8102e" stroke-width="0.9" fill="none" opacity="0.7"/>
<path d="M399.41,166.5H402.81M399.41,180.2H402.81" stroke="#c8102e" stroke-width="1.15" fill="none" opacity="0.9"/>
<path d="M427.78,168.8V184" stroke="#c8102e" stroke-width="0.9" fill="none" opacity="0.7"/>
<path d="M426.08,168.8H429.48M426.08,184H429.48" stroke="#c8102e" stroke-width="1.15" fill="none" opacity="0.9"/>
<path d="M454.45,175.3V185.3" stroke="#c8102e" stroke-width="0.9" fill="none" opacity="0.7"/>
<path d="M452.75,175.3H456.15M452.75,185.3H456.15" stroke="#c8102e" stroke-width="1.15" fill="none" opacity="0.9"/>
<path d="M481.12,180.2V187" stroke="#c8102e" stroke-width="0.9" fill="none" opacity="0.7"/>
<path d="M479.42,180.2H482.82M479.42,187H482.82" stroke="#c8102e" stroke-width="1.15" fill="none" opacity="0.9"/>
<path d="M507.79,183.7V188.9" stroke="#c8102e" stroke-width="0.9" fill="none" opacity="0.7"/>
<path d="M506.09,183.7H509.49M506.09,188.9H509.49" stroke="#c8102e" stroke-width="1.15" fill="none" opacity="0.9"/>
<polyline points="321.1,192.7 347.77,172.3 374.44,170.9 401.11,173 427.78,176.5 454.45,180.3 481.12,183.3 507.79,186.4" fill="none" stroke="#c8102e" stroke-width="1.5" stroke-linejoin="miter"/>
<circle cx="347.77" cy="172.3" r="2.1" fill="#c8102e"/>
<circle cx="374.44" cy="170.9" r="2.1" fill="#c8102e"/>
<circle cx="401.11" cy="173" r="2.1" fill="#c8102e"/>
<circle cx="427.78" cy="176.5" r="2.1" fill="#c8102e"/>
<circle cx="454.45" cy="180.3" r="2.1" fill="#c8102e"/>
<circle cx="481.12" cy="183.3" r="2.1" fill="#c8102e"/>
<circle cx="507.79" cy="186.4" r="2.1" fill="#c8102e"/>
<circle cx="321.1" cy="192.7" r="2.1" fill="#c8102e"/>
<circle cx="346.07" cy="124.4" r="1.2" fill="#164d88"/>
<circle cx="349.47" cy="124.4" r="1.2" fill="#164d88"/>
<circle cx="346.07" cy="132.7" r="1.2" fill="#33ad43"/>
<circle cx="349.47" cy="132.7" r="1.2" fill="#33ad43"/>
<circle cx="372.74" cy="120.1" r="1.2" fill="#164d88"/>
<circle cx="376.14" cy="120.1" r="1.2" fill="#164d88"/>
<circle cx="372.74" cy="128.3" r="1.2" fill="#33ad43"/>
<circle cx="376.14" cy="128.3" r="1.2" fill="#33ad43"/>
<circle cx="399.41" cy="121.5" r="1.2" fill="#164d88"/>
<circle cx="402.81" cy="121.5" r="1.2" fill="#164d88"/>
<circle cx="399.41" cy="129.7" r="1.2" fill="#33ad43"/>
<circle cx="402.81" cy="129.7" r="1.2" fill="#33ad43"/>
<circle cx="426.08" cy="125.4" r="1.2" fill="#164d88"/>
<circle cx="429.48" cy="125.4" r="1.2" fill="#164d88"/>
<circle cx="426.08" cy="133.6" r="1.2" fill="#33ad43"/>
<circle cx="429.48" cy="133.6" r="1.2" fill="#33ad43"/>
<circle cx="452.75" cy="130.1" r="1.2" fill="#164d88"/>
<circle cx="456.15" cy="130.1" r="1.2" fill="#164d88"/>
<circle cx="452.75" cy="138.1" r="1.2" fill="#33ad43"/>
<circle cx="456.15" cy="138.1" r="1.2" fill="#33ad43"/>
<circle cx="479.42" cy="134.4" r="1.2" fill="#164d88"/>
<circle cx="482.82" cy="134.4" r="1.2" fill="#164d88"/>
<circle cx="479.42" cy="142.4" r="1.2" fill="#33ad43"/>
<circle cx="482.82" cy="142.4" r="1.2" fill="#33ad43"/>
<circle cx="506.09" cy="139.3" r="1.2" fill="#164d88"/>
<circle cx="509.49" cy="139.3" r="1.2" fill="#164d88"/>
<circle cx="506.09" cy="147.9" r="1.2" fill="#33ad43"/>
<circle cx="509.49" cy="147.9" r="1.2" fill="#33ad43"/>
<line x1="321.2" y1="290.1" x2="321.2" y2="425.75" stroke="#1c1c1c" stroke-width="1.4"/>
<line x1="320.5" y1="425" x2="513.8" y2="425" stroke="#1c1c1c" stroke-width="1.5"/>
<line x1="317.8" y1="424.8" x2="321" y2="424.8" stroke="#1c1c1c" stroke-width="0.9"/>
<text x="315.2" y="427.35" font-size="7.2" text-anchor="end" class="t" letter-spacing="0.25">0</text>
<line x1="317.8" y1="381.15" x2="321" y2="381.15" stroke="#1c1c1c" stroke-width="0.9"/>
<text x="315.2" y="383.7" font-size="7.2" text-anchor="end" class="t" letter-spacing="0.25">50</text>
<line x1="317.8" y1="337.5" x2="321" y2="337.5" stroke="#1c1c1c" stroke-width="0.9"/>
<text x="315.2" y="340.05" font-size="7.2" text-anchor="end" class="t" letter-spacing="0.25">100</text>
<line x1="317.8" y1="293.85" x2="321" y2="293.85" stroke="#1c1c1c" stroke-width="0.9"/>
<text x="315.2" y="296.4" font-size="7.2" text-anchor="end" class="t" letter-spacing="0.25">150</text>
<line x1="321" y1="424.8" x2="321" y2="427.6" stroke="#1c1c1c" stroke-width="0.9"/>
<text x="321.15" y="436.4" font-size="7.2" text-anchor="middle" class="t" letter-spacing="0.25">0</text>
<line x1="347.94" y1="424.8" x2="347.94" y2="427.6" stroke="#1c1c1c" stroke-width="0.9"/>
<text x="348.09" y="436.4" font-size="7.2" text-anchor="middle" class="t" letter-spacing="0.25">2</text>
<line x1="374.88" y1="424.8" x2="374.88" y2="427.6" stroke="#1c1c1c" stroke-width="0.9"/>
<text x="375.03" y="436.4" font-size="7.2" text-anchor="middle" class="t" letter-spacing="0.25">4</text>
<line x1="401.82" y1="424.8" x2="401.82" y2="427.6" stroke="#1c1c1c" stroke-width="0.9"/>
<text x="401.97" y="436.4" font-size="7.2" text-anchor="middle" class="t" letter-spacing="0.25">6</text>
<line x1="428.76" y1="424.8" x2="428.76" y2="427.6" stroke="#1c1c1c" stroke-width="0.9"/>
<text x="428.91" y="436.4" font-size="7.2" text-anchor="middle" class="t" letter-spacing="0.25">8</text>
<line x1="455.7" y1="424.8" x2="455.7" y2="427.6" stroke="#1c1c1c" stroke-width="0.9"/>
<text x="455.85" y="436.4" font-size="7.2" text-anchor="middle" class="t" letter-spacing="0.25">10</text>
<line x1="482.64" y1="424.8" x2="482.64" y2="427.6" stroke="#1c1c1c" stroke-width="0.9"/>
<text x="482.79" y="436.4" font-size="7.2" text-anchor="middle" class="t" letter-spacing="0.25">12</text>
<line x1="509.58" y1="424.8" x2="509.58" y2="427.6" stroke="#1c1c1c" stroke-width="0.9"/>
<text x="509.73" y="436.4" font-size="7.2" text-anchor="middle" class="t" letter-spacing="0.25">14</text>
<path d="M347.94,337.4V369.6" stroke="#521862" stroke-width="0.9" fill="none" opacity="0.7"/>
<path d="M346.24,337.4H349.64M346.24,369.6H349.64" stroke="#521862" stroke-width="1.15" fill="none" opacity="0.9"/>
<path d="M374.88,339.5V366.3" stroke="#521862" stroke-width="0.9" fill="none" opacity="0.7"/>
<path d="M373.18,339.5H376.58M373.18,366.3H376.58" stroke="#521862" stroke-width="1.15" fill="none" opacity="0.9"/>
<path d="M401.82,346.5V366.3" stroke="#521862" stroke-width="0.9" fill="none" opacity="0.7"/>
<path d="M400.12,346.5H403.52M400.12,366.3H403.52" stroke="#521862" stroke-width="1.15" fill="none" opacity="0.9"/>
<path d="M428.76,350.9V369.4" stroke="#521862" stroke-width="0.9" fill="none" opacity="0.7"/>
<path d="M427.06,350.9H430.46M427.06,369.4H430.46" stroke="#521862" stroke-width="1.15" fill="none" opacity="0.9"/>
<path d="M455.7,354.3V374.3" stroke="#521862" stroke-width="0.9" fill="none" opacity="0.7"/>
<path d="M454,354.3H457.4M454,374.3H457.4" stroke="#521862" stroke-width="1.15" fill="none" opacity="0.9"/>
<path d="M482.64,359V380.4" stroke="#521862" stroke-width="0.9" fill="none" opacity="0.7"/>
<path d="M480.94,359H484.34M480.94,380.4H484.34" stroke="#521862" stroke-width="1.15" fill="none" opacity="0.9"/>
<path d="M509.58,362.5V386.6" stroke="#521862" stroke-width="0.9" fill="none" opacity="0.7"/>
<path d="M507.88,362.5H511.28M507.88,386.6H511.28" stroke="#521862" stroke-width="1.15" fill="none" opacity="0.9"/>
<polyline points="321,424.8 347.94,353 374.88,352.3 401.82,356.1 428.76,360 455.7,364.3 482.64,369.5 509.58,373.9" fill="none" stroke="#521862" stroke-width="1.5" stroke-linejoin="miter"/>
<path d="M345.94,351.5H349.94L347.94,354.9Z" fill="#521862"/>
<path d="M372.88,350.8H376.88L374.88,354.2Z" fill="#521862"/>
<path d="M399.82,354.6H403.82L401.82,358Z" fill="#521862"/>
<path d="M426.76,358.5H430.76L428.76,361.9Z" fill="#521862"/>
<path d="M453.7,362.8H457.7L455.7,366.2Z" fill="#521862"/>
<path d="M480.64,368H484.64L482.64,371.4Z" fill="#521862"/>
<path d="M507.58,372.4H511.58L509.58,375.8Z" fill="#521862"/>
<path d="M347.94,370.8V386.8" stroke="#33ad43" stroke-width="0.9" fill="none" opacity="0.7"/>
<path d="M346.24,370.8H349.64M346.24,386.8H349.64" stroke="#33ad43" stroke-width="1.15" fill="none" opacity="0.9"/>
<path d="M374.88,371.5V390.1" stroke="#33ad43" stroke-width="0.9" fill="none" opacity="0.7"/>
<path d="M373.18,371.5H376.58M373.18,390.1H376.58" stroke="#33ad43" stroke-width="1.15" fill="none" opacity="0.9"/>
<path d="M401.82,378.5V392.3" stroke="#33ad43" stroke-width="0.9" fill="none" opacity="0.7"/>
<path d="M400.12,378.5H403.52M400.12,392.3H403.52" stroke="#33ad43" stroke-width="1.15" fill="none" opacity="0.9"/>
<path d="M428.76,382V396.2" stroke="#33ad43" stroke-width="0.9" fill="none" opacity="0.7"/>
<path d="M427.06,382H430.46M427.06,396.2H430.46" stroke="#33ad43" stroke-width="1.15" fill="none" opacity="0.9"/>
<path d="M455.7,386V399.8" stroke="#33ad43" stroke-width="0.9" fill="none" opacity="0.7"/>
<path d="M454,386H457.4M454,399.8H457.4" stroke="#33ad43" stroke-width="1.15" fill="none" opacity="0.9"/>
<path d="M482.64,387.5V403.3" stroke="#33ad43" stroke-width="0.9" fill="none" opacity="0.7"/>
<path d="M480.94,387.5H484.34M480.94,403.3H484.34" stroke="#33ad43" stroke-width="1.15" fill="none" opacity="0.9"/>
<path d="M509.58,389.6V406.4" stroke="#33ad43" stroke-width="0.9" fill="none" opacity="0.7"/>
<path d="M507.88,389.6H511.28M507.88,406.4H511.28" stroke="#33ad43" stroke-width="1.15" fill="none" opacity="0.9"/>
<polyline points="321,424.8 347.94,378.8 374.88,380.8 401.82,385.4 428.76,389.1 455.7,392.9 482.64,395.4 509.58,398" fill="none" stroke="#33ad43" stroke-width="1.5" stroke-linejoin="miter"/>
<path d="M347.94,376.4L350.34,378.8L347.94,381.2L345.54,378.8Z" fill="#33ad43"/>
<path d="M374.88,378.4L377.28,380.8L374.88,383.2L372.48,380.8Z" fill="#33ad43"/>
<path d="M401.82,383L404.22,385.4L401.82,387.8L399.42,385.4Z" fill="#33ad43"/>
<path d="M428.76,386.7L431.16,389.1L428.76,391.5L426.36,389.1Z" fill="#33ad43"/>
<path d="M455.7,390.5L458.1,392.9L455.7,395.3L453.3,392.9Z" fill="#33ad43"/>
<path d="M482.64,393L485.04,395.4L482.64,397.8L480.24,395.4Z" fill="#33ad43"/>
<path d="M509.58,395.6L511.98,398L509.58,400.4L507.18,398Z" fill="#33ad43"/>
<path d="M347.94,380V398.5" stroke="#164d88" stroke-width="0.9" fill="none" opacity="0.7"/>
<path d="M346.24,380H349.64M346.24,398.5H349.64" stroke="#164d88" stroke-width="1.15" fill="none" opacity="0.9"/>
<path d="M374.88,377.7V397.7" stroke="#164d88" stroke-width="0.9" fill="none" opacity="0.7"/>
<path d="M373.18,377.7H376.58M373.18,397.7H376.58" stroke="#164d88" stroke-width="1.15" fill="none" opacity="0.9"/>
<path d="M401.82,379.2V398.5" stroke="#164d88" stroke-width="0.9" fill="none" opacity="0.7"/>
<path d="M400.12,379.2H403.52M400.12,398.5H403.52" stroke="#164d88" stroke-width="1.15" fill="none" opacity="0.9"/>
<path d="M428.76,385V401.8" stroke="#164d88" stroke-width="0.9" fill="none" opacity="0.7"/>
<path d="M427.06,385H430.46M427.06,401.8H430.46" stroke="#164d88" stroke-width="1.15" fill="none" opacity="0.9"/>
<path d="M455.7,389V405.2" stroke="#164d88" stroke-width="0.9" fill="none" opacity="0.7"/>
<path d="M454,389H457.4M454,405.2H457.4" stroke="#164d88" stroke-width="1.15" fill="none" opacity="0.9"/>
<path d="M482.64,393V408.4" stroke="#164d88" stroke-width="0.9" fill="none" opacity="0.7"/>
<path d="M480.94,393H484.34M480.94,408.4H484.34" stroke="#164d88" stroke-width="1.15" fill="none" opacity="0.9"/>
<path d="M509.58,397V413.3" stroke="#164d88" stroke-width="0.9" fill="none" opacity="0.7"/>
<path d="M507.88,397H511.28M507.88,413.3H511.28" stroke="#164d88" stroke-width="1.15" fill="none" opacity="0.9"/>
<polyline points="321,424.8 347.94,389.2 374.88,388 401.82,389.5 428.76,393.4 455.7,397.1 482.64,400.7 509.58,405" fill="none" stroke="#164d88" stroke-width="1.5" stroke-linejoin="miter"/>
<path d="M345.94,390.7H349.94L347.94,387.3Z" fill="#164d88"/>
<path d="M372.88,389.5H376.88L374.88,386.1Z" fill="#164d88"/>
<path d="M399.82,391H403.82L401.82,387.6Z" fill="#164d88"/>
<path d="M426.76,394.9H430.76L428.76,391.5Z" fill="#164d88"/>
<path d="M453.7,398.6H457.7L455.7,395.2Z" fill="#164d88"/>
<path d="M480.64,402.2H484.64L482.64,398.8Z" fill="#164d88"/>
<path d="M507.58,406.5H511.58L509.58,403.1Z" fill="#164d88"/>
<path d="M347.94,395.7V412.3" stroke="#c8102e" stroke-width="0.9" fill="none" opacity="0.7"/>
<path d="M346.24,395.7H349.64M346.24,412.3H349.64" stroke="#c8102e" stroke-width="1.15" fill="none" opacity="0.9"/>
<path d="M374.88,398.5V410" stroke="#c8102e" stroke-width="0.9" fill="none" opacity="0.7"/>
<path d="M373.18,398.5H376.58M373.18,410H376.58" stroke="#c8102e" stroke-width="1.15" fill="none" opacity="0.9"/>
<path d="M401.82,398.5V414.2" stroke="#c8102e" stroke-width="0.9" fill="none" opacity="0.7"/>
<path d="M400.12,398.5H403.52M400.12,414.2H403.52" stroke="#c8102e" stroke-width="1.15" fill="none" opacity="0.9"/>
<path d="M428.76,400.6V417.7" stroke="#c8102e" stroke-width="0.9" fill="none" opacity="0.7"/>
<path d="M427.06,400.6H430.46M427.06,417.7H430.46" stroke="#c8102e" stroke-width="1.15" fill="none" opacity="0.9"/>
<path d="M455.7,405.1V421.4" stroke="#c8102e" stroke-width="0.9" fill="none" opacity="0.7"/>
<path d="M454,405.1H457.4M454,421.4H457.4" stroke="#c8102e" stroke-width="1.15" fill="none" opacity="0.9"/>
<path d="M482.64,410.5V421.5" stroke="#c8102e" stroke-width="0.9" fill="none" opacity="0.7"/>
<path d="M480.94,410.5H484.34M480.94,421.5H484.34" stroke="#c8102e" stroke-width="1.15" fill="none" opacity="0.9"/>
<path d="M509.58,413.8V423.8" stroke="#c8102e" stroke-width="0.9" fill="none" opacity="0.7"/>
<path d="M507.88,413.8H511.28M507.88,423.8H511.28" stroke="#c8102e" stroke-width="1.15" fill="none" opacity="0.9"/>
<polyline points="321,424.8 347.94,404.2 374.88,404.3 401.82,406.2 428.76,409.1 455.7,413 482.64,415.6 509.58,418.8" fill="none" stroke="#c8102e" stroke-width="1.5" stroke-linejoin="miter"/>
<circle cx="347.94" cy="404.2" r="2.1" fill="#c8102e"/>
<circle cx="374.88" cy="404.3" r="2.1" fill="#c8102e"/>
<circle cx="401.82" cy="406.2" r="2.1" fill="#c8102e"/>
<circle cx="428.76" cy="409.1" r="2.1" fill="#c8102e"/>
<circle cx="455.7" cy="413" r="2.1" fill="#c8102e"/>
<circle cx="482.64" cy="415.6" r="2.1" fill="#c8102e"/>
<circle cx="509.58" cy="418.8" r="2.1" fill="#c8102e"/>
<circle cx="321" cy="424.8" r="2.1" fill="#c8102e"/>
<circle cx="346.24" cy="320.8" r="1.2" fill="#164d88"/>
<circle cx="349.64" cy="320.8" r="1.2" fill="#164d88"/>
<circle cx="346.24" cy="328.7" r="1.2" fill="#33ad43"/>
<circle cx="349.64" cy="328.7" r="1.2" fill="#33ad43"/>
<circle cx="373.18" cy="320.8" r="1.2" fill="#164d88"/>
<circle cx="376.58" cy="320.8" r="1.2" fill="#164d88"/>
<circle cx="373.18" cy="328.7" r="1.2" fill="#33ad43"/>
<circle cx="376.58" cy="328.7" r="1.2" fill="#33ad43"/>
<circle cx="400.12" cy="326.4" r="1.2" fill="#164d88"/>
<circle cx="403.52" cy="326.4" r="1.2" fill="#164d88"/>
<circle cx="400.12" cy="334.8" r="1.2" fill="#33ad43"/>
<circle cx="403.52" cy="334.8" r="1.2" fill="#33ad43"/>
<circle cx="427.06" cy="329.2" r="1.2" fill="#164d88"/>
<circle cx="430.46" cy="329.2" r="1.2" fill="#164d88"/>
<circle cx="427.06" cy="337.5" r="1.2" fill="#33ad43"/>
<circle cx="430.46" cy="337.5" r="1.2" fill="#33ad43"/>
<circle cx="454" cy="333.8" r="1.2" fill="#164d88"/>
<circle cx="457.4" cy="333.8" r="1.2" fill="#164d88"/>
<circle cx="454" cy="342.4" r="1.2" fill="#33ad43"/>
<circle cx="457.4" cy="342.4" r="1.2" fill="#33ad43"/>
<circle cx="480.94" cy="338.9" r="1.2" fill="#164d88"/>
<circle cx="484.34" cy="338.9" r="1.2" fill="#164d88"/>
<circle cx="480.94" cy="346.5" r="1.2" fill="#33ad43"/>
<circle cx="484.34" cy="346.5" r="1.2" fill="#33ad43"/>
<circle cx="507.88" cy="342.8" r="1.2" fill="#164d88"/>
<circle cx="511.28" cy="342.8" r="1.2" fill="#164d88"/>
<circle cx="507.88" cy="351.4" r="1.2" fill="#33ad43"/>
<circle cx="511.28" cy="351.4" r="1.2" fill="#33ad43"/>
<text x="141.7" y="216.6" font-size="8.2" text-anchor="middle" class="tt" textLength="46" lengthAdjust="spacingAndGlyphs">Days after injury</text>
<text x="143" y="449.6" font-size="8.2" text-anchor="middle" class="tt" textLength="46.5" lengthAdjust="spacingAndGlyphs">Days after injury</text>
<text x="416.6" y="216.5" font-size="8.2" text-anchor="middle" class="tt" textLength="46.2" lengthAdjust="spacingAndGlyphs">Days after injury</text>
<text x="417.7" y="449.6" font-size="8.2" text-anchor="middle" class="tt" textLength="46.2" lengthAdjust="spacingAndGlyphs">Days after injury</text>
<text class="tt" x="0" y="0" font-size="8.2" text-anchor="middle" textLength="48" lengthAdjust="spacingAndGlyphs" transform="translate(12.9,127.3) rotate(-90)">Survival rate (%)</text>
<text class="tt" x="0" y="0" font-size="8.2" text-anchor="middle" textLength="48" lengthAdjust="spacingAndGlyphs" transform="translate(12.9,357.1) rotate(-90)">Survival rate (%)</text>
<text class="tt" x="0" y="0" font-size="8.2" text-anchor="middle" textLength="81" lengthAdjust="spacingAndGlyphs" transform="translate(296.3,127.4) rotate(-90)">Change of joint diameter (%)</text>
<text class="tt" x="0" y="0" font-size="8.2" text-anchor="middle" textLength="79" lengthAdjust="spacingAndGlyphs" transform="translate(296.3,359.5) rotate(-90)">Change of joint diameter (%)</text>
<rect x="0.5" y="0.5" width="519" height="455" fill="none" stroke="#000" stroke-width="1.2"/>
</svg></body></html>
